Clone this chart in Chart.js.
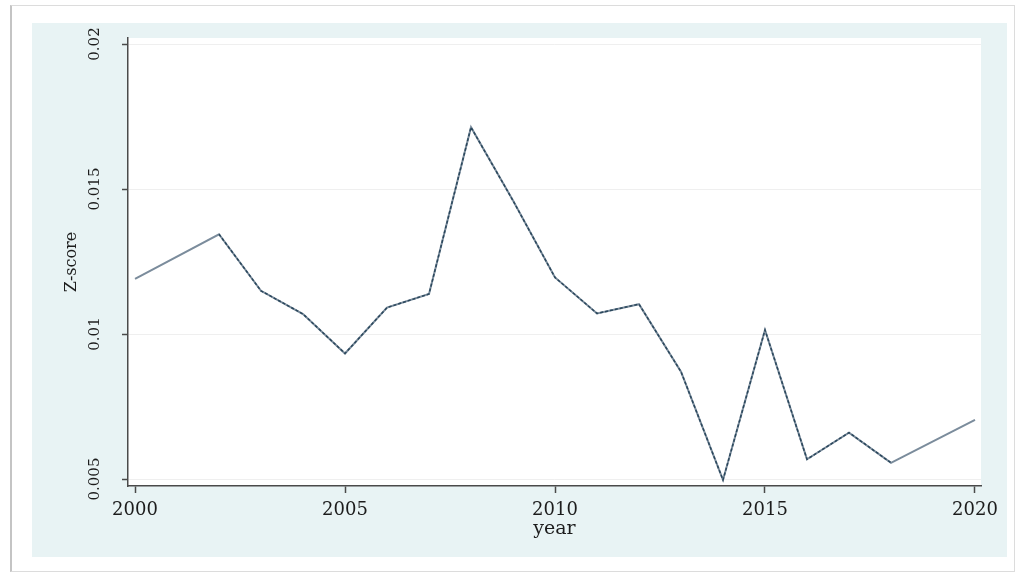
<!DOCTYPE html>
<html>
<head>
<meta charset="utf-8">
<script src="https://cdn.jsdelivr.net/npm/chart.js@4"></script>
<style>
    body { margin: 0; background: #fff; width: 1016px; height: 573px; overflow: hidden; }
    #frame { position: absolute; left: 10px; top: 5px; width: 1002px; height: 565px;
             border: 1px solid #dcdcdc; border-left: 2px solid #c4c4c4; background: #fff; }
    #panel { position: absolute; left: 32px; top: 23px; width: 975px; height: 534px; background: #e8f3f4; }
</style>
</head>
<body>
<div id="frame"></div>
<div id="panel"><canvas id="zChart" width="975" height="534"></canvas></div>
<script>
// years with data (2001 and 2019 are missing)
const years = [2000, 2002, 2003, 2004, 2005, 2006, 2007, 2008, 2009, 2010,
               2011, 2012, 2013, 2014, 2015, 2016, 2017, 2018, 2020];
const zScore = [0.0119, 0.01344, 0.01149, 0.01069, 0.00933, 0.01091, 0.01138, 0.01713, 0.0146, 0.01195,
                0.01071, 0.01103, 0.0087, 0.00497, 0.01014, 0.00568, 0.0066, 0.00556, 0.00704];
const xTicks = [2000, 2005, 2010, 2015, 2020];
const yTicks = [0.005, 0.01, 0.015, 0.02];

const points = years.map((y, i) => ({ x: y, y: zScore[i] }));
const inner = points.filter(p => p.x >= 2002 && p.x <= 2018);

const axisColor = '#4a4a4a';
const textColor = '#1c1c1c';
const serif = 'DejaVu Serif';

const plotBg = {
    id: 'plotBg',
    beforeDraw(chart) {
        const { ctx, chartArea: a } = chart;
        ctx.save();
        ctx.fillStyle = '#ffffff';
        ctx.fillRect(a.left, a.top, a.right - a.left, a.bottom - a.top);
        ctx.restore();
    }
};

new Chart(document.getElementById('zChart'), {
    type: 'line',
    data: {
        datasets: [{
            data: points,
            order: 2,
            borderColor: '#7b8c9c',
            borderWidth: 2,
            pointRadius: 0,
            tension: 0
        }, {
            data: inner,
            order: 1,
            borderColor: '#2a475c',
            borderWidth: 1.5,
            borderDash: [3, 2],
            pointRadius: 0,
            tension: 0
        }]
    },
    options: {
        responsive: false,
        animation: false,
        layout: { padding: { left: 0, top: 15, right: 26, bottom: 0 } },
        plugins: { legend: { display: false }, tooltip: { enabled: false } },
        scales: {
            x: {
                type: 'linear',
                min: 1999.833,
                max: 2020.143,
                afterBuildTicks: s => { s.ticks = xTicks.map(v => ({ value: v })); },
                afterFit: s => { s.height = 71; },
                border: { color: axisColor, width: 1.5 },
                grid: { drawOnChartArea: false, tickLength: 7, color: axisColor, tickWidth: 1.5 },
                ticks: {
                    color: textColor,
                    padding: 7,
                    maxRotation: 0,
                    font: { family: serif, size: 18 },
                    callback: v => String(v)
                },
                title: {
                    display: true,
                    text: 'year',
                    color: textColor,
                    font: { family: serif, size: 19 },
                    padding: { top: 0, bottom: 17 }
                }
            },
            y: {
                min: 0.00476,
                max: 0.020207,
                afterBuildTicks: s => { s.ticks = yTicks.map(v => ({ value: v })); },
                afterFit: s => { s.width = 96; },
                border: { color: axisColor, width: 1.5 },
                grid: { color: '#efefef', lineWidth: 1, tickLength: 6, tickColor: axisColor, tickWidth: 1.5 },
                ticks: {
                    color: textColor,
                    padding: 5,
                    minRotation: 90,
                    maxRotation: 90,
                    crossAlign: 'center',
                    font: { family: serif, size: 15 },
                    callback: v => String(v)
                },
                title: {
                    display: true,
                    text: 'Z-score',
                    color: textColor,
                    font: { family: serif, size: 16 },
                    padding: { top: 30, bottom: 0 }
                }
            }
        }
    },
    plugins: [plotBg]
});
</script>
</body>
</html>
